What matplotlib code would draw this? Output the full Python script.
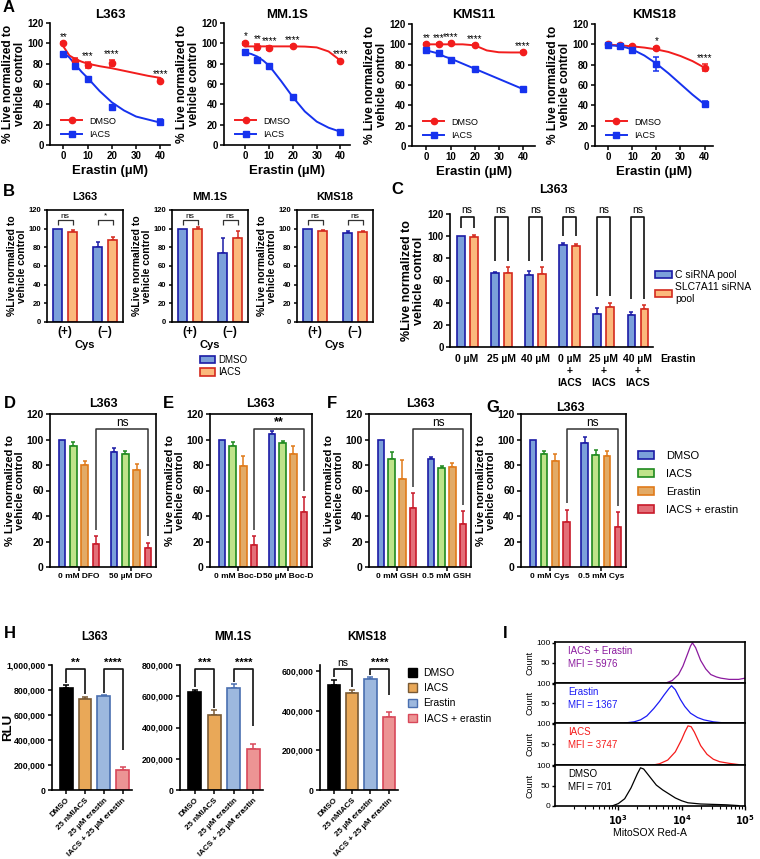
import numpy as np
import matplotlib
matplotlib.use("Agg")
from matplotlib import pyplot as plt
from matplotlib.patches import Patch
from matplotlib.lines import Line2D
from matplotlib.ticker import FuncFormatter, LogLocator, NullFormatter

plt.rcParams['font.family'] = ['Liberation Sans', 'DejaVu Sans']
plt.rcParams['font.weight'] = 'bold'
plt.rcParams['axes.labelweight'] = 'bold'
plt.rcParams['axes.linewidth'] = 1.2

# ---------------- A: dose response ----------------
erastin_um = [0, 5, 10, 20, 40]
fit_um = [0, 2.5, 5, 7.5, 10, 15, 20, 25, 30, 35, 40]
a_cells = ['L363', 'MM.1S', 'KMS11', 'KMS18']

l363_dmso = [100, 83, 79, 81, 63]
l363_dmso_sd = [1, 3, 3, 3, 1.5]
l363_iacs = [90, 78, 65, 37, 23]
l363_iacs_sd = [1.5, 2, 2, 2, 3]
l363_dmso_fit = [97, 88, 84.5, 82, 80, 77.5, 75.5, 73, 70.5, 68, 66]
l363_iacs_fit = [91, 86, 79, 72, 66, 53, 42, 34, 28, 25, 22]
l363_stars = ['**', '', '***', '****', '****']

mm1s_dmso = [100, 96, 95, 97, 83]
mm1s_dmso_sd = [1.5, 3, 2, 1, 1]
mm1s_iacs = [91, 84, 78, 47, 13]
mm1s_iacs_sd = [1.5, 2, 1.5, 1.5, 1]
mm1s_dmso_fit = [97, 97, 97, 97, 97, 97, 97, 96.8, 96, 92, 83]
mm1s_iacs_fit = [91, 89.5, 87, 83, 78, 63, 47, 33, 23, 17, 13]
mm1s_stars = ['*', '**', '****', '****', '****']

kms11_dmso = [100, 100, 101, 99, 92]
kms11_dmso_sd = [1, 1, 1, 1, 1]
kms11_iacs = [94, 91, 85, 76, 56]
kms11_iacs_sd = [1, 1, 1.5, 1, 1]
kms11_dmso_fit = [100, 100, 100, 100, 100, 100, 99, 94, 92.2, 92, 92]
kms11_iacs_fit = [94, 92.5, 91, 88, 86, 81, 76, 71, 66, 61, 56]
kms11_stars = ['**', '***', '****', '****', '****']

kms18_dmso = [100, 99, 98, 96, 77]
kms18_dmso_sd = [1, 1, 1.5, 1.5, 3.5]
kms18_iacs = [99, 98, 94, 81, 41]
kms18_iacs_sd = [1, 1, 1.5, 7, 3]
kms18_dmso_fit = [99.5, 99.3, 99, 98.5, 98, 96.8, 95, 92.5, 88.5, 83.5, 77]
kms18_iacs_fit = [99, 98.7, 98, 96.8, 95, 89, 81, 71.5, 61, 50.5, 41]
kms18_stars = ['', '', '', '*', '****']

# ---------------- B: cystine ----------------
cys_groups = ['(+)', '(\u2212)']
b_cells = ['L363', 'MM.1S', 'KMS18']
b_l363_dmso = [100, 80]
b_l363_dmso_sd = [0, 6]
b_l363_iacs = [96, 88]
b_l363_iacs_sd = [3, 3]
b_l363_sig = ['ns', '*']
b_mm1s_dmso = [100, 74]
b_mm1s_dmso_sd = [0, 16]
b_mm1s_iacs = [100, 90]
b_mm1s_iacs_sd = [1.5, 8]
b_mm1s_sig = ['ns', 'ns']
b_kms18_dmso = [100, 95]
b_kms18_dmso_sd = [0, 2]
b_kms18_iacs = [97.5, 96]
b_kms18_iacs_sd = [1.5, 1]
b_kms18_sig = ['ns', 'ns']

# ---------------- C: siRNA ----------------
c_groups = ['0 \u00b5M', '25 \u00b5M', '40 \u00b5M',
            '0 \u00b5M\n+\nIACS', '25 \u00b5M\n+\nIACS', '40 \u00b5M\n+\nIACS']
c_ctrl = [100, 67, 65, 92, 29.5, 29]
c_ctrl_sd = [0, 1, 4, 2, 6, 3]
c_slc = [99, 67, 66, 91, 36, 34.5]
c_slc_sd = [2, 5, 6, 2, 4, 3]
c_sig = ['ns', 'ns', 'ns', 'ns', 'ns', 'ns']

# ---------------- D-G: rescue ----------------
dg_treat = ['DMSO', 'IACS', 'Erastin', 'IACS + erastin']
d_groups = ['0 mM DFO', '50 \u00b5M DFO']
d_lo = [100, 95, 80, 18]
d_lo_sd = [0, 3, 3, 6]
d_hi = [90, 89, 76, 15]
d_hi_sd = [3, 2, 5, 4]
e_groups = ['0 mM Boc-D', '50 \u00b5M Boc-D']
e_lo = [100, 95, 79, 17]
e_lo_sd = [0, 3, 8, 7]
e_hi = [104, 97, 89, 43]
e_hi_sd = [3, 2, 6, 12]
f_groups = ['0 mM GSH', '0.5 mM GSH']
f_lo = [100, 85, 69, 46]
f_lo_sd = [0, 5, 15, 12]
f_hi = [85, 78, 78.5, 34]
f_hi_sd = [1, 1.5, 3, 10]
g_groups = ['0 mM Cys', '0.5 mM Cys']
g_lo = [100, 89, 83, 35]
g_lo_sd = [0, 2, 6, 10]
g_hi = [97, 88, 87, 31]
g_hi_sd = [5, 4, 4, 12]
dg_sig = ['ns', '**', 'ns', 'ns']

# ---------------- H: RLU ----------------
h_labels = ['DMSO', '25 nMIACS', '25 \u00b5M erastin', 'IACS + 25 \u00b5M erastin']
h_legend = ['DMSO', 'IACS', 'Erastin', 'IACS + erastin']
h_l363 = [820000, 730000, 750000, 160000]
h_l363_sd = [20000, 15000, 10000, 22000]
h_mm1s = [630000, 480000, 650000, 260000]
h_mm1s_sd = [12000, 32000, 28000, 35000]
h_kms18 = [530000, 488000, 558000, 370000]
h_kms18_sd = [25000, 18000, 10000, 22000]
h_l363_sig = ['**', '****']
h_mm1s_sig = ['***', '****']
h_kms18_sig = ['ns', '****']

# ---------------- I: MitoSOX histograms (log10 intensity, count) ----------------
i_names = ['IACS + Erastin', 'Erastin', 'IACS', 'DMSO']
i_mfi = [5976, 1367, 3747, 701]
i_log_combo = [3.75, 3.85, 3.95, 4.02, 4.09, 4.14, 4.17, 4.22, 4.3, 4.38, 4.46, 4.55, 4.62, 4.75, 4.9, 5.0]
i_cnt_combo = [0, 6, 21, 42, 71, 92, 100, 88, 56, 35, 21, 15, 12, 9, 9, 12]
i_log_erastin = [3.1, 3.25, 3.35, 3.45, 3.56, 3.65, 3.72, 3.8, 3.84, 3.9, 3.98, 4.05, 4.14, 4.25, 4.35, 4.5, 4.62, 5.0]
i_cnt_erastin = [0, 3, 8, 18, 37, 55, 71, 88, 95, 85, 60, 42, 25, 14, 8, 3, 1, 0]
i_log_iacs = [3.55, 3.65, 3.78, 3.9, 4.0, 4.05, 4.1, 4.15, 4.2, 4.3, 4.4, 4.5, 4.6, 4.75, 4.9]
i_cnt_iacs = [0, 3, 12, 32, 62, 80, 95, 93, 80, 47, 26, 14, 8, 4, 1]
i_log_dmso = [2.9, 3.0, 3.1, 3.2, 3.3, 3.35, 3.4, 3.5, 3.6, 3.7, 3.8, 3.9, 4.0, 4.1, 4.3, 4.5, 4.7, 4.9]
i_cnt_dmso = [0, 6, 18, 45, 80, 95, 92, 72, 52, 40, 30, 20, 13, 8, 5, 4, 3, 1]

# ---------------- layout helpers ----------------
W, H = 760, 859
fig = plt.figure(figsize=(W / 100, H / 100), dpi=100)


def add_ax(l, t, r, b):
    return fig.add_axes([l / W, 1 - b / H, (r - l) / W, (b - t) / H])


def ftext(x, y, s, **kw):
    kw.setdefault('ha', 'center')
    kw.setdefault('va', 'center')
    fig.text(x / W, 1 - y / H, s, **kw)


def style(ax, box=False, fs=6.5, tl=3):
    ax.spines['top'].set_visible(box)
    ax.spines['right'].set_visible(box)
    ax.tick_params(direction='out', length=tl, width=1.1, labelsize=fs, pad=1.5)


def up_err(ax, x, y, e, color, cap=1.6, lw=1.1):
    x = np.asarray(x, float)
    y = np.asarray(y, float)
    e = np.asarray(e, float)
    m = e > 0
    ax.errorbar(x[m], y[m], yerr=[np.zeros(m.sum()), e[m]], fmt='none',
                ecolor=color, elinewidth=lw, capsize=cap, capthick=lw, zorder=1)


def bracket(ax, x1, x2, y, y1, y2, label, fs, weight='normal', dy=1.5, lw=1.0, color='#333333'):
    ax.plot([x1, x1, x2, x2], [y1, y, y, y2], color=color, lw=lw, clip_on=False,
            solid_capstyle='butt')
    ax.text((x1 + x2) / 2, y + dy, label, ha='center', va='bottom', fontsize=fs,
            fontweight=weight, clip_on=False)


# panel letters
for s, x, y in [('A', 9, 8), ('B', 9, 191), ('C', 397, 190), ('D', 10, 404), ('E', 168, 404),
                ('F', 332, 404), ('G', 493, 408), ('H', 10, 633), ('I', 505, 633)]:
    ftext(x, y, s, fontsize=12)

# ---------------- draw A ----------------
red, blue = '#f21d1d', '#1632ee'
a_series = [
    (l363_dmso, l363_dmso_sd, l363_iacs, l363_iacs_sd, l363_dmso_fit, l363_iacs_fit, l363_stars),
    (mm1s_dmso, mm1s_dmso_sd, mm1s_iacs, mm1s_iacs_sd, mm1s_dmso_fit, mm1s_iacs_fit, mm1s_stars),
    (kms11_dmso, kms11_dmso_sd, kms11_iacs, kms11_iacs_sd, kms11_dmso_fit, kms11_iacs_fit, kms11_stars),
    (kms18_dmso, kms18_dmso_sd, kms18_iacs, kms18_iacs_sd, kms18_dmso_fit, kms18_iacs_fit, kms18_stars),
]
a_boxes = [(50, 23, 170, 145, -5.5, 44), (224, 23, 350, 145, -9, 44),
           (412, 24, 535, 146, -6, 45), (595, 24, 713, 146, -5.5, 43.5)]
for k, cell in enumerate(a_cells):
    l, t, r, b, x0, x1 = a_boxes[k]
    ax = add_ax(l, t, r, b)
    dm, dm_sd, ia, ia_sd, dm_fit, ia_fit, stars = a_series[k]
    ax.plot(fit_um, dm_fit, color=red, lw=1.4)
    ax.plot(fit_um, ia_fit, color=blue, lw=1.4)
    ax.errorbar(erastin_um, dm, yerr=dm_sd, fmt='o', color=red, ms=4.5, capsize=2,
                elinewidth=1.1, capthick=1.1)
    ax.errorbar(erastin_um, ia, yerr=ia_sd, fmt='s', color=blue, ms=4.5, capsize=2,
                elinewidth=1.1, capthick=1.1)
    for x, s, d, ds, c, cs in zip(erastin_um, stars, dm, dm_sd, ia, ia_sd):
        if s:
            ax.text(x, max(d + ds, c + cs) + 5.5, s, ha='center', va='center',
                    fontsize=7, fontweight='normal')
    ax.set_xlim(x0, x1)
    ax.set_ylim(0, 120)
    ax.set_xticks([0, 10, 20, 30, 40])
    ax.set_yticks(range(0, 121, 20))
    style(ax, fs=7)
    ax.set_xlabel('Erastin (\u00b5M)', fontsize=9.5, labelpad=3)
    ax.set_ylabel('% Live normalized to\nvehicle control', fontsize=8.6, labelpad=1,
                  linespacing=1.0)
    hd = [Line2D([0], [0], color=red, marker='o', ms=4.5, lw=1.4),
          Line2D([0], [0], color=blue, marker='s', ms=4.5, lw=1.4)]
    ax.legend(hd, ['DMSO', 'IACS'], loc='lower left', bbox_to_anchor=(0.04, 0.0),
              frameon=False, prop={'size': 6.5, 'weight': 'normal'}, handlelength=2.3,
              labelspacing=0.45, borderaxespad=0.3)
    ftext((l + r) / 2, 15, cell, fontsize=9.5)

# ---------------- draw B ----------------
b_face = ['#7ba0da', '#fbb97c']
b_edge = ['#1b1ba6', '#d42a1e']
b_series = [
    (b_l363_dmso, b_l363_dmso_sd, b_l363_iacs, b_l363_iacs_sd, b_l363_sig),
    (b_mm1s_dmso, b_mm1s_dmso_sd, b_mm1s_iacs, b_mm1s_iacs_sd, b_mm1s_sig),
    (b_kms18_dmso, b_kms18_dmso_sd, b_kms18_iacs, b_kms18_iacs_sd, b_kms18_sig),
]
b_left = [47, 172, 297]
xg = np.arange(len(cys_groups))
for k, cell in enumerate(b_cells):
    ax = add_ax(b_left[k], 210, b_left[k] + 76, 322)
    dm, dm_sd, ia, ia_sd, sig = b_series[k]
    for j, (vals, sd) in enumerate([(dm, dm_sd), (ia, ia_sd)]):
        xs = xg + (j - 0.5) * 0.38
        ax.bar(xs, vals, width=0.23, color=b_face[j], edgecolor=b_edge[j], lw=1.2, zorder=2)
        up_err(ax, xs, vals, sd, b_edge[j], cap=1.4)
    for g in range(len(cys_groups)):
        bracket(ax, g - 0.19, g + 0.19, 109, 104, 104, sig[g], 6, dy=0.5, lw=0.9)
    ax.set_xlim(-0.46, 1.45)
    ax.set_ylim(0, 120)
    ax.set_yticks(range(0, 121, 20))
    ax.set_xticks(xg)
    ax.set_xticklabels(cys_groups, fontsize=8.5)
    style(ax, box=True, fs=5.5, tl=2.5)
    ax.tick_params(axis='x', length=0, pad=3, labelsize=8.5)
    ax.set_xlabel('Cys', fontsize=8, labelpad=1)
    ax.set_ylabel('%Live normalized to\nvehicle control', fontsize=7.5, labelpad=1,
                  linespacing=1.0)
    ftext(b_left[k] + 38, 197, cell, fontsize=8)
fig.legend([Patch(facecolor=b_face[j], edgecolor=b_edge[j], lw=1.2) for j in range(2)],
           ['DMSO', 'IACS'], loc='upper left', bbox_to_anchor=(200 / W, 1 - 355 / H),
           frameon=False, prop={'size': 7, 'weight': 'normal'}, handlelength=1.5,
           handleheight=0.8, labelspacing=0.25, handletextpad=0.4, borderpad=0,
           borderaxespad=0)

# ---------------- draw C ----------------
ax = add_ax(450, 214, 653, 347)
xc = np.arange(len(c_groups))
for j, (vals, sd) in enumerate([(c_ctrl, c_ctrl_sd), (c_slc, c_slc_sd)]):
    xs = xc + (j - 0.5) * 0.38
    ax.bar(xs, vals, width=0.23, color=b_face[j], edgecolor=b_edge[j], lw=1.2, zorder=2)
    up_err(ax, xs, vals, sd, b_edge[j], cap=1.5)
for g in range(len(c_groups)):
    leg = max(c_ctrl[g] + c_ctrl_sd[g], c_slc[g] + c_slc_sd[g]) + 6
    bracket(ax, g - 0.19, g + 0.19, 117, leg, leg, c_sig[g], 7.5, dy=2.5, lw=1.2,
            color='#111111')
ax.set_xlim(-0.5, 5.44)
ax.set_ylim(0, 120)
ax.set_yticks(range(0, 121, 20))
ax.set_xticks(xc)
ax.set_xticklabels(c_groups, fontsize=7.5, linespacing=1.25)
style(ax, fs=7)
ax.tick_params(axis='x', length=0, pad=5, labelsize=7.5)
ax.set_ylabel('%Live normalized to\nvehicle control', fontsize=9, labelpad=2, linespacing=1.0)
ftext(660, 359, 'Erastin', fontsize=7.5, ha='left')
ftext(553, 190, 'L363', fontsize=9)
fig.legend([Patch(facecolor=b_face[j], edgecolor=b_edge[j], lw=1.2) for j in range(2)],
           ['C siRNA pool', 'SLC7A11 siRNA\npool'], loc='upper left',
           bbox_to_anchor=(655 / W, 1 - 270 / H), frameon=False,
           prop={'size': 7.5, 'weight': 'normal'}, handlelength=1.6, handleheight=0.7,
           labelspacing=0.2, handletextpad=0.35, borderpad=0, borderaxespad=0)

# ---------------- draw D-G ----------------
dg_face = ['#7ba0da', '#bfe38a', '#e2aa66', '#e36f78']
dg_edge = ['#1b1ba6', '#1f8a1f', '#e07a1a', '#c81a2a']
dg_series = [(d_lo, d_lo_sd, d_hi, d_hi_sd, d_groups), (e_lo, e_lo_sd, e_hi, e_hi_sd, e_groups),
             (f_lo, f_lo_sd, f_hi, f_hi_sd, f_groups), (g_lo, g_lo_sd, g_hi, g_hi_sd, g_groups)]
dg_boxes = [(50, 156), (210, 312), (369, 471), (521, 626)]
dg_titles = [(103, 404), (260, 404), (420, 404), (570, 408)]
off = (np.arange(4) - 1.5) * 0.217
for k in range(4):
    lo, lo_sd, hi, hi_sd, groups = dg_series[k]
    l, r = dg_boxes[k]
    ax = add_ax(l, 414, r, 567)
    for g, (vals, sd) in enumerate([(lo, lo_sd), (hi, hi_sd)]):
        xs = g + off
        ax.bar(xs, vals, width=0.125, color=dg_face, edgecolor=dg_edge, lw=1.2, zorder=2)
        for t in range(4):
            up_err(ax, [xs[t]], [vals[t]], [sd[t]], dg_edge[t], cap=1.5)
    xa, xb = off[3], 1 + off[3]
    bracket(ax, xa, xb, 108, lo[3] + lo_sd[3] + 5, hi[3] + hi_sd[3] + 5, dg_sig[k],
            9 if dg_sig[k] != 'ns' else 8.5, weight='bold' if dg_sig[k] != 'ns' else 'normal',
            dy=0.5, lw=1.1)
    ax.set_xlim(-0.56, 1.48)
    ax.set_ylim(0, 120)
    ax.set_yticks(range(0, 121, 20))
    ax.set_xticks([0, 1])
    ax.set_xticklabels(groups, fontsize=6)
    style(ax, box=True, fs=7.5)
    ax.tick_params(axis='x', labelsize=6)
    ax.set_ylabel('% Live normalized to\nvehicle control', fontsize=8, labelpad=1,
                  linespacing=1.0)
    ftext(dg_titles[k][0], dg_titles[k][1], 'L363', fontsize=9)
fig.legend([Patch(facecolor=dg_face[t], edgecolor=dg_edge[t], lw=1.2) for t in range(4)],
           dg_treat, loc='upper left', bbox_to_anchor=(638 / W, 1 - 451 / H), frameon=False,
           prop={'size': 8, 'weight': 'normal'}, handlelength=1.4, handleheight=0.65,
           labelspacing=0.72, handletextpad=1.1, borderpad=0, borderaxespad=0)

# ---------------- draw H ----------------
h_face = ['#000000', '#e9a858', '#9db8de', '#ec9494']
h_edge = ['#000000', '#7a5a34', '#4a6fb0', '#d8485a']
h_series = [(h_l363, h_l363_sd, h_l363_sig, 1000000, 'L363', 95),
            (h_mm1s, h_mm1s_sd, h_mm1s_sig, 800000, 'MM.1S', 233),
            (h_kms18, h_kms18_sd, h_kms18_sig, 630000, 'KMS18', 367)]
h_boxes = [(52, 132), (180, 263), (320, 398)]
xh = np.arange(4)
for k in range(3):
    vals, sd, sig, top, cell, tx = h_series[k]
    l, r = h_boxes[k]
    ax = add_ax(l, 665, r, 790)
    ax.bar(xh, vals, width=0.68, color=h_face, edgecolor=h_edge, lw=1.2, zorder=2)
    for t in range(4):
        up_err(ax, [xh[t]], [vals[t]], [sd[t]], h_edge[t], cap=2)
    yb = top * 0.97
    for p, (a, b2) in enumerate([(0, 1), (2, 3)]):
        bracket(ax, a, b2, yb, vals[a] + sd[a] + top * 0.02, vals[b2] + sd[b2] + top * 0.02 + (top * 0.12 if p else 0),
                sig[p], 8 if sig[p] != 'ns' else 7.5,
                weight='bold' if sig[p] != 'ns' else 'normal', dy=top * 0.005, lw=1.2,
                color='#111111')
    ax.set_xlim(-0.75, 3.5)
    ax.set_ylim(0, top)
    ax.set_yticks(np.arange(0, top + 1, 200000))
    ax.yaxis.set_major_formatter(FuncFormatter(lambda v, p: f'{int(v):,}'))
    ax.set_xticks(xh)
    ax.set_xticklabels(h_labels, rotation=45, ha='right', rotation_mode='anchor', fontsize=5.8)
    style(ax, fs=6.3)
    ax.tick_params(axis='x', labelsize=5.8, pad=2)
    ftext(tx, 637, cell, fontsize=8.5)
ftext(8, 727, 'RLU', fontsize=9.5, rotation=90)
fig.legend([Patch(facecolor=h_face[t], edgecolor=h_edge[t], lw=1.0) for t in range(4)],
           h_legend, loc='upper left', bbox_to_anchor=(408 / W, 1 - 668 / H), frameon=False,
           prop={'size': 7.5, 'weight': 'normal'}, handlelength=0.9, handleheight=0.9,
           labelspacing=0.5, handletextpad=0.6, borderpad=0, borderaxespad=0)

# ---------------- draw I ----------------
i_colors = ['#8b1a9e', '#1c1cf5', '#f51c1c', '#000000']
i_logs = [i_log_combo, i_log_erastin, i_log_iacs, i_log_dmso]
i_cnts = [i_cnt_combo, i_cnt_erastin, i_cnt_iacs, i_cnt_dmso]
i_tops = [642, 683, 723, 765, 806]
for k in range(4):
    ax = add_ax(555, i_tops[k], 745, i_tops[k + 1])
    ax.plot(10 ** np.asarray(i_logs[k]), i_cnts[k], color=i_colors[k], lw=0.9)
    ax.set_xscale('log')
    ax.set_xlim(1e2, 1e5)
    ax.set_ylim(0, 102)
    ax.set_yticks([0, 50, 100])
    ax.set_yticklabels(['0' if k == 3 else '', '50', '100'])
    ax.tick_params(axis='y', direction='out', length=2.5, width=1, labelsize=6, pad=1)
    for sp in ax.spines.values():
        sp.set_linewidth(1.2)
    ax.set_ylabel('Count', fontsize=6.5, fontweight='normal', labelpad=1)
    for lab in ax.get_yticklabels():
        lab.set_fontweight('normal')
    ax.text(0.07, 0.9, f'{i_names[k]}\nMFI = {i_mfi[k]}', transform=ax.transAxes,
            ha='left', va='top', fontsize=7, fontweight='normal', color=i_colors[k],
            linespacing=1.35)
    if k < 3:
        ax.tick_params(axis='x', which='both', length=0, labelbottom=False)
    else:
        ax.set_xticks([1e3, 1e4, 1e5])
        ax.xaxis.set_major_formatter(FuncFormatter(lambda v, p: f'$10^{{{int(round(np.log10(v)))}}}$'))
        ax.xaxis.set_minor_locator(LogLocator(base=10, subs=np.arange(2, 10), numticks=20))
        ax.xaxis.set_minor_formatter(NullFormatter())
        ax.tick_params(axis='x', which='major', length=3, width=1, labelsize=7, pad=2)
        ax.tick_params(axis='x', which='minor', length=2, width=0.8)
        for lab in ax.get_xticklabels():
            lab.set_fontweight('normal')
        ax.set_xlabel('MitoSOX Red-A', fontsize=7.5, fontweight='normal', labelpad=1)

fig.savefig('out.png', dpi=100)
